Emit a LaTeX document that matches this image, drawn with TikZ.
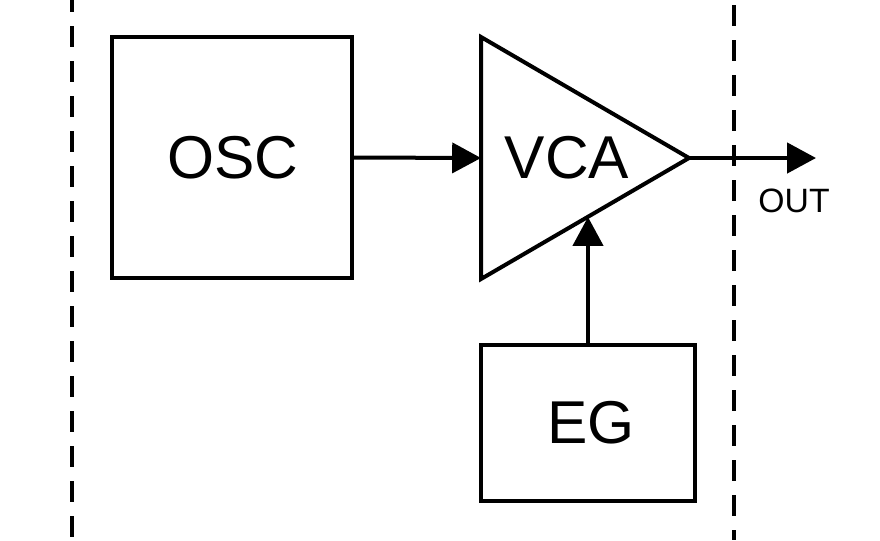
\documentclass[tikz,border=0pt]{standalone}
\usepackage{fontspec}
\setmainfont{Liberation Sans}
\usetikzlibrary{arrows.meta}
\usetikzlibrary{calc}

\begin{document}
\begin{tikzpicture}[x=.025cm, y=-.025cm,
  block/.style={draw, line width=.1cm, inner sep=0, outer sep=0},
  big/.style={font=\fontsize{43}{43}\selectfont},
  sig/.style={line width=.1cm, -{Triangle[length=.72cm, width=.75cm]}},
  border/.style={line width=.1cm, dash pattern=on .525cm off .35cm}]
\useasboundingbox (0,0) rectangle (880,540);
% module borders
\foreach \x/\ph in {72/.225cm, 734/.75cm}
 \draw[border, dash phase=\ph] (\x,0)--(\x,540);
% blocks
\node[block, minimum width=6cm, minimum height=6.025cm] (osc) at (232,157.5) {};
\node[big] (osclabel) at (233,158) {OSC};
\node[block, minimum width=5.35cm, minimum height=3.9cm] (eg) at (588,423) {};
\node[big] (eglabel) at (591,423) {EG};
% amplifier
\coordinate (vcain) at (481,158);
\coordinate (vcaout) at (689,158);
\coordinate (vcactl) at (588,217);
\draw[line width=.1cm, line join=miter] (481,37)--(vcaout)--(481,279)--cycle;
\node[big] (vcalabel) at (567,158) {VCA};
% signal path
\coordinate (out) at (816,158);
\draw[sig] (osc.east)--(vcain);
\draw[sig] (vcaout)--(out);
\draw[sig] (eg.north)--(vcactl);
\node[font=\fontsize{24}{24}\selectfont] (outlabel) at (794,201) {OUT};
\end{tikzpicture}
\end{document}
